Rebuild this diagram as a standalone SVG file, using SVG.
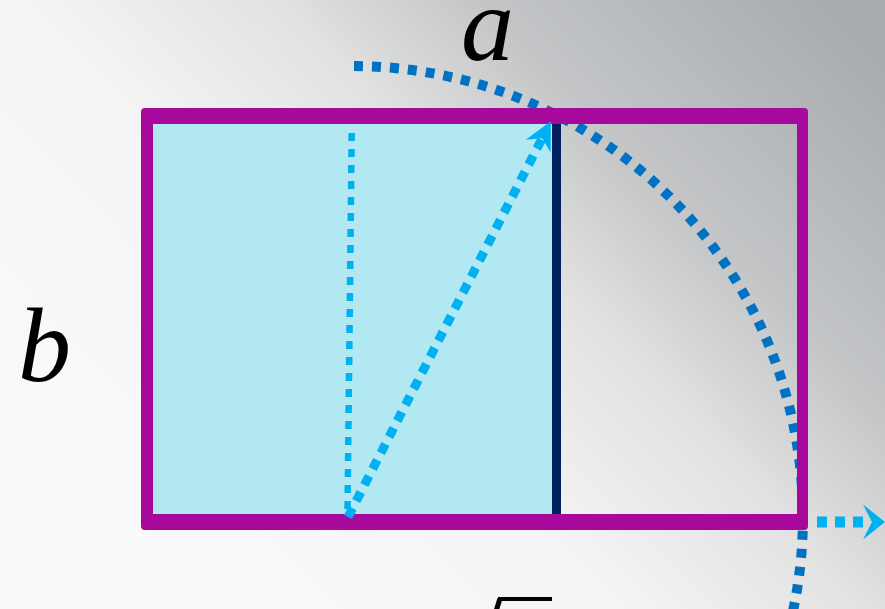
<svg xmlns="http://www.w3.org/2000/svg" width="885" height="609" viewBox="0 0 885 609">
<style>
.lbl{font-family:"Liberation Serif","Times New Roman",serif;font-style:italic;font-size:106px;fill:#000}
.rad{font-family:"Liberation Serif","Times New Roman",serif;font-size:120px;fill:#000}
.arc{fill:none;stroke:#0072c4;stroke-width:10;stroke-dasharray:9 9}
.dotv{fill:none;stroke:#00b0f0;stroke-width:6.5;stroke-dasharray:8 8}
.diag{fill:none;stroke:#00b0f0;stroke-width:9;stroke-dasharray:10 8}
.right{fill:none;stroke:#00b0f0;stroke-width:11;stroke-dasharray:10 8}
</style>
<defs>
<linearGradient id="bg" gradientUnits="userSpaceOnUse" x1="200" y1="609" x2="820" y2="0">
<stop offset="0" stop-color="#fafafa"/>
<stop offset="0.35" stop-color="#f4f4f4"/>
<stop offset="0.55" stop-color="#e2e2e2"/>
<stop offset="0.72" stop-color="#c3c5c7"/>
<stop offset="1" stop-color="#a9acaf"/>
</linearGradient>
<marker id="headA" markerUnits="userSpaceOnUse" viewBox="-16 -15 34 30" markerWidth="34" markerHeight="30" refX="0" refY="0" orient="auto">
<path d="M16,0 L-12,-14 L-3,0 L-12,14 Z" fill="#00b0f0"/>
</marker>
<marker id="headB" markerUnits="userSpaceOnUse" viewBox="-8 -19 28 38" markerWidth="28" markerHeight="38" refX="0" refY="0" orient="auto">
<path d="M17,0 L-5,-17.5 L4,0 L-5,17.5 Z" fill="#00b0f0"/>
</marker>
</defs>
<rect width="885" height="609" fill="url(#bg)"/>
<g id="square">
<rect x="153" y="124" width="400" height="390" fill="#b1e8f1"/>
</g>
<g id="connectors">
<path class="arc" d="M354,66 A451,451 0 0 1 791,620"/>
</g>
<g id="frame">
<path d="M145,108 H804 Q808,108 808,112 V526 Q808,530 804,530 H145 Q141,530 141,526 V112 Q141,108 145,108 Z M153,124 V514 H797 V124 Z" fill="#a6099b" fill-rule="evenodd"/>
</g>
<g id="divider">
<line x1="556.5" y1="124" x2="556.5" y2="514" stroke="#002060" stroke-width="9"/>
</g>
<g id="arrows">
<line class="dotv" x1="351.7" y1="133" x2="347.5" y2="512"/>
<line class="diag" x1="348" y1="517" x2="543.6" y2="135.5" marker-end="url(#headA)"/>
<line class="right" x1="817" y1="522" x2="868" y2="522" marker-end="url(#headB)"/>
</g>
<g id="labels">
<text class="lbl" x="461" y="60">a</text>
<text class="lbl" x="18" y="381">b</text>
<text class="rad" x="437" y="693">√</text>
<line x1="498" y1="599" x2="552" y2="599" stroke="#000" stroke-width="4"/>
</g>
</svg>
